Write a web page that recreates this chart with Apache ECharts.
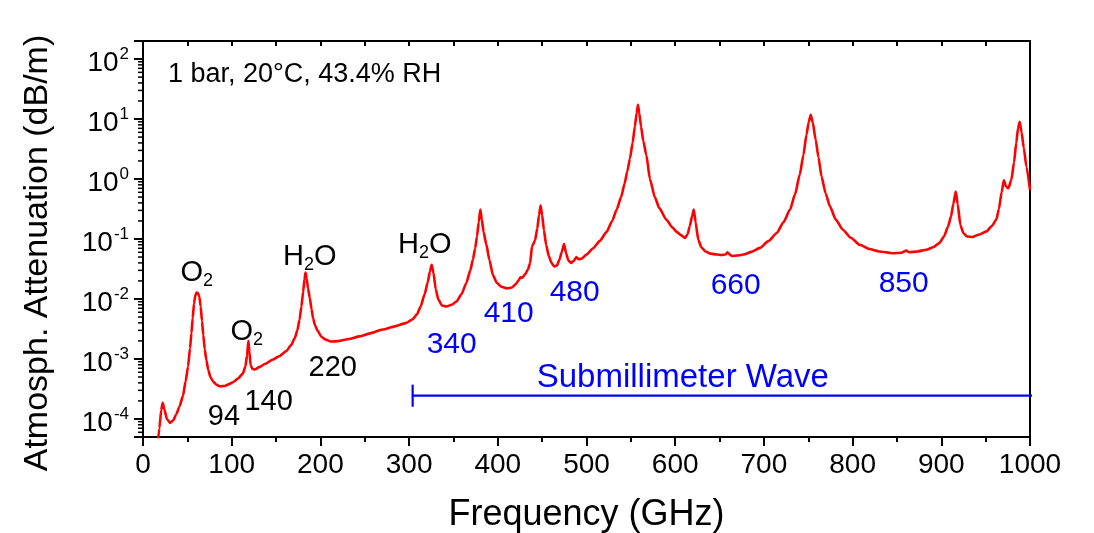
<!DOCTYPE html>
<html>
<head>
<meta charset="utf-8">
<script src="https://cdn.jsdelivr.net/npm/echarts@6/dist/echarts.min.js"></script>
<style>html,body{margin:0;padding:0;background:#fff}#c{width:1094px;height:533px}</style>
</head>
<body>
<div id="c"></div>
<script>
// Frequency (GHz)
const freq = [16,18.5,20.5,22.2,24,27,30.5,34,37.6,41,45,48,50.8,53,54.6,56,57.5,59,60.5,62,63.5,65,66.5,68,69.6,71.5,73.5,76,79,83,87,92,97,101.5,107,112.5,115.5,117.3,118.8,120,121.4,123.5,126,131,138,146,154,161.5,167,171,174,176.5,178.6,180.5,182,183.2,184.5,186,188,190,191.7,194,197.3,201,206,212,220,232,244,257,270,284,297,304,309,313,317.5,321,323.5,325.5,327.5,330,333,337,342,348,353.5,359,364.5,369,372,374.5,376.5,378.5,380.3,382,384,387,390.5,394.5,399,404,410,416,420,423.5,425.5,427.5,431,434,436.5,438.5,440,442,444.5,446.5,448.3,450,452,454.5,457.5,460.5,463.5,466.5,469.5,472,474.7,477,479.5,482.5,485.5,488.5,491,494.5,500,507.5,515,522.5,529,534,539,543,546,549,552,554.5,556.5,558,559.5,561.5,564,567.5,571.5,577,582,590,597,602,607,611,614,616.5,619,621,623,626,629.5,634,640,647,652,656.5,659,661.5,664,670,677,686,695.5,705,714.5,722,729.5,735,740.5,744.5,748,750.5,752.8,755,758.4,761.5,765,769.5,774.5,781,789,798,808,819,830,845,855,860.5,864,873,883,891,898,903,907.5,911,913.5,916.3,918.5,921.5,925,929,935,942,951,957,962,965,968,970.5,973,975.5,979,982,984.5,986.5,988.4,990.5,993,996,1000];
// Atmospheric attenuation (dB/m)
const atten = [3.2e-5,7e-5,1.4e-4,1.85e-4,1.45e-4,1.0e-4,8.6e-5,9.5e-5,1.2e-4,1.6e-4,2.4e-4,4.2e-4,7.5e-4,1.5e-3,2.7e-3,4.8e-3,8.4e-3,1.15e-2,1.28e-2,1.25e-2,1.1e-2,7.5e-3,4.3e-3,2.5e-3,1.45e-3,9.5e-4,6.6e-4,5e-4,4.2e-4,3.7e-4,3.5e-4,3.55e-4,3.8e-4,4.1e-4,4.7e-4,5.7e-4,7.5e-4,1.15e-3,2.0e-3,1.3e-3,7.8e-4,6.8e-4,6.7e-4,7.3e-4,8.3e-4,9.7e-4,1.12e-3,1.35e-3,1.7e-3,2.2e-3,3.0e-3,4.5e-3,7.5e-3,1.3e-2,2.1e-2,2.75e-2,2.2e-2,1.5e-2,1.05e-2,6.8e-3,4.8e-3,3.6e-3,2.9e-3,2.35e-3,2.1e-3,1.95e-3,1.98e-3,2.15e-3,2.38e-3,2.7e-3,3.1e-3,3.5e-3,4.0e-3,4.6e-3,5.6e-3,7.5e-3,1.2e-2,1.9e-2,2.9e-2,3.7e-2,2.7e-2,1.45e-2,9.8e-3,7.8e-3,7.5e-3,8e-3,9.1e-3,1.2e-2,1.85e-2,3.0e-2,4.6e-2,7e-2,0.11,0.19,0.31,0.21,0.13,8.2e-2,4.5e-2,2.5e-2,1.85e-2,1.6e-2,1.5e-2,1.55e-2,1.75e-2,2.05e-2,2.3e-2,2.25e-2,2.6e-2,3.1e-2,4.0e-2,7.5e-2,8.2e-2,9.5e-2,0.15,0.25,0.36,0.25,0.14,8e-2,5.2e-2,4.0e-2,3.5e-2,3.6e-2,4.5e-2,6.0e-2,8.2e-2,5.8e-2,4.4e-2,4.0e-2,4.3e-2,5.0e-2,4.6e-2,4.7e-2,5.5e-2,7e-2,9.3e-2,0.13,0.2,0.31,0.5,0.85,1.35,2.2,4.0,7.5,12.5,17.3,12.5,7.5,4.3,2.5,1.0,0.5,0.33,0.21,0.155,0.13,0.115,0.104,0.12,0.165,0.24,0.31,0.19,0.097,0.073,0.062,0.057,0.055,0.054,0.055,0.06,0.055,0.052,0.053,0.055,0.061,0.071,0.092,0.126,0.19,0.31,0.55,1.2,2.5,5.5,8.8,11.8,8.8,4.5,2.3,1.1,0.58,0.35,0.21,0.143,0.105,0.08,0.068,0.062,0.058,0.059,0.064,0.06,0.062,0.066,0.073,0.086,0.11,0.16,0.24,0.38,0.62,0.38,0.17,0.125,0.11,0.108,0.118,0.134,0.165,0.21,0.32,0.6,0.95,0.75,0.7,0.97,1.9,4.0,7.0,9.0,6.0,3.3,1.6,0.66];

// Annotations
const noteFreq = [60.5,116.9,188,317.6,91.2,141.7,213.9,348,412.3,486.7,668.2,857.6];
const noteVal  = [0.027,2.8e-3,0.05,0.079,1.07e-4,1.9e-4,7.0e-4,1.7e-3,5.6e-3,1.25e-2,1.64e-2,1.77e-2];
const noteText = ['{n|O}{sub|2}','{n|O}{sub|2}','{n|H}{sub|2}{n|O}','{n|H}{sub|2}{n|O}','{n|94}','{n|140}','{n|220}','{b|340}','{b|410}','{b|480}','{b|660}','{b|850}'];
const condText = '1 bar, 20°C, 43.4% RH';
const condPos = [28.1, 56];
const bandText = 'Submillimeter Wave';
const bandLabelPos = [608.6, 4.9e-4];
const bandStart = 304, bandEnd = 1004, bandLevel = 2.45e-4, bandCapLo = 1.6e-4, bandCapHi = 3.73e-4;

const xTicks = ['0','100','200','300','400','500','600','700','800','900','1000'];
const yMin = 5e-5, yMax = 200;

const FONT = '"Liberation Sans", Arial, Helvetica, sans-serif';
const minorVals = [];
for (let e = -5; e <= 2; e++) for (let k = 2; k <= 9; k++) { const v = k * Math.pow(10, e); if (v > yMin * 1.0001 && v < yMax * 0.9999) minorVals.push(v); }

const noBorder = { textBorderWidth: 0, textBorderColor: 'transparent', textShadowBlur: 0, opacity: 1 };

const chart = echarts.init(document.getElementById('c'));
chart.setOption({
  animation: false,
  backgroundColor: '#fff',
  textStyle: { fontFamily: FONT },
  grid: { left: 143, right: 64, top: 41, bottom: 96, show: false, containLabel: false, outerBoundsMode: 'none' },
  xAxis: [{
    type: 'value', min: 0, max: 1000, interval: 100, position: 'bottom',
    axisLine: { show: true, onZero: false, lineStyle: { color: '#000', width: 2 } },
    axisTick: { show: true, inside: false, length: 9, lineStyle: { color: '#000', width: 2 } },
    minorTick: { show: true, splitNumber: 2, length: 5, lineStyle: { color: '#000', width: 2 } },
    splitLine: { show: false },
    axisLabel: { fontSize: 28, color: '#000', margin: 14, fontFamily: FONT, formatter: v => xTicks[Math.round(v / 100)] },
    name: 'Frequency (GHz)', nameLocation: 'middle', nameGap: 60,
    nameTextStyle: { fontSize: 36, color: '#000', fontFamily: FONT }
  }, {
    type: 'value', min: 0, max: 1000, interval: 50, position: 'top',
    axisLine: { show: true, onZero: false, lineStyle: { color: '#000', width: 2 } },
    axisTick: { show: true, inside: true, length: 5, lineStyle: { color: '#000', width: 2 } },
    axisLabel: { show: false }, splitLine: { show: false }
  }],
  yAxis: [{
    type: 'log', logBase: 10, min: yMin, max: yMax, position: 'left',
    axisLine: { show: true, onZero: false, lineStyle: { color: '#000', width: 2 } },
    axisTick: { show: true, inside: false, length: 9, lineStyle: { color: '#000', width: 2 } },
    splitLine: { show: false },
    axisLabel: {
      margin: 14, color: '#000', fontFamily: FONT,
      formatter: function (v) {
        const e = Math.log10(v), r = Math.round(e);
        if (Math.abs(e - r) > 1e-6) return '';
        return '{b|10}{s|' + r + '}';
      },
      rich: {
        b: { fontSize: 28, color: '#000', fontFamily: FONT, padding: [8, 0, 0, 0] },
        s: { fontSize: 17, color: '#000', fontFamily: FONT, padding: [0, 0, 10, 1] }
      }
    }
  }, {
    type: 'log', logBase: 10, min: yMin, max: yMax, position: 'right',
    axisLine: { show: true, onZero: false, lineStyle: { color: '#000', width: 2 } },
    axisTick: { show: false }, axisLabel: { show: false }, splitLine: { show: false }
  }],
  graphic: [{
    type: 'text', x: 38, y: 253, rotation: Math.PI / 2,
    style: { text: 'Atmosph. Attenuation (dB/m)', fontSize: 34, fill: '#000', fontFamily: FONT, align: 'center', verticalAlign: 'middle' }
  }],
  series: [{
    type: 'line', name: 'attenuation', xAxisIndex: 0, yAxisIndex: 0,
    data: freq.map((f, i) => [f, atten[i]]),
    showSymbol: false, symbol: 'none', smooth: 0.2, smoothMonotone: 'x', clip: true,
    lineStyle: { color: '#ff0000', width: 2.6 }, z: 5
  }, {
    type: 'line', name: 'band', xAxisIndex: 0, yAxisIndex: 0,
    data: [[bandStart, bandLevel], [bandEnd, bandLevel]], showSymbol: false, symbol: 'none', clip: false,
    lineStyle: { color: '#0000ff', width: 2.2 }, z: 4
  }, {
    type: 'line', name: 'bandcap', xAxisIndex: 0, yAxisIndex: 0,
    data: [[bandStart, bandCapLo], [bandStart, bandCapHi]], showSymbol: false, symbol: 'none',
    lineStyle: { color: '#0000ff', width: 2.2 }, z: 4
  }, {
    type: 'scatter', xAxisIndex: 0, yAxisIndex: 0, symbolSize: 0, silent: true, z: 6,
    itemStyle: { opacity: 1 },
    data: noteFreq.map((f, i) => ({ value: [f, noteVal[i]], label: { formatter: noteText[i] } })),
    label: Object.assign({
      show: true, position: 'inside',
      rich: {
        n: Object.assign({ fontSize: 29, color: '#000', fontFamily: FONT }, noBorder),
        sub: Object.assign({ fontSize: 18, color: '#000', fontFamily: FONT, padding: [16, 0, 0, 0] }, noBorder),
        b: Object.assign({ fontSize: 30, color: '#0000ff', fontFamily: FONT }, noBorder)
      }
    }, noBorder)
  }, {
    type: 'scatter', xAxisIndex: 0, yAxisIndex: 0, symbolSize: 0, silent: true, z: 6,
    itemStyle: { opacity: 1 },
    data: [{ value: bandLabelPos, label: Object.assign({ formatter: bandText, fontSize: 33, color: '#0000ff', fontFamily: FONT }, noBorder) },
           { value: condPos, label: Object.assign({ formatter: condText, fontSize: 27, color: '#000', fontFamily: FONT, position: 'right', distance: 0 }, noBorder) }],
    label: Object.assign({ show: true, position: 'inside' }, noBorder)
  }, {
    type: 'custom', xAxisIndex: 0, yAxisIndex: 0, silent: true, clip: false, z: 3,
    data: minorVals.map(v => [0, v]),
    renderItem: function (params, api) {
      const p = api.coord([0, api.value(1)]);
      return { type: 'line', shape: { x1: p[0] - 5, y1: p[1], x2: p[0], y2: p[1] }, style: { stroke: '#000', lineWidth: 1.5 } };
    }
  }]
});
</script>
</body>
</html>
